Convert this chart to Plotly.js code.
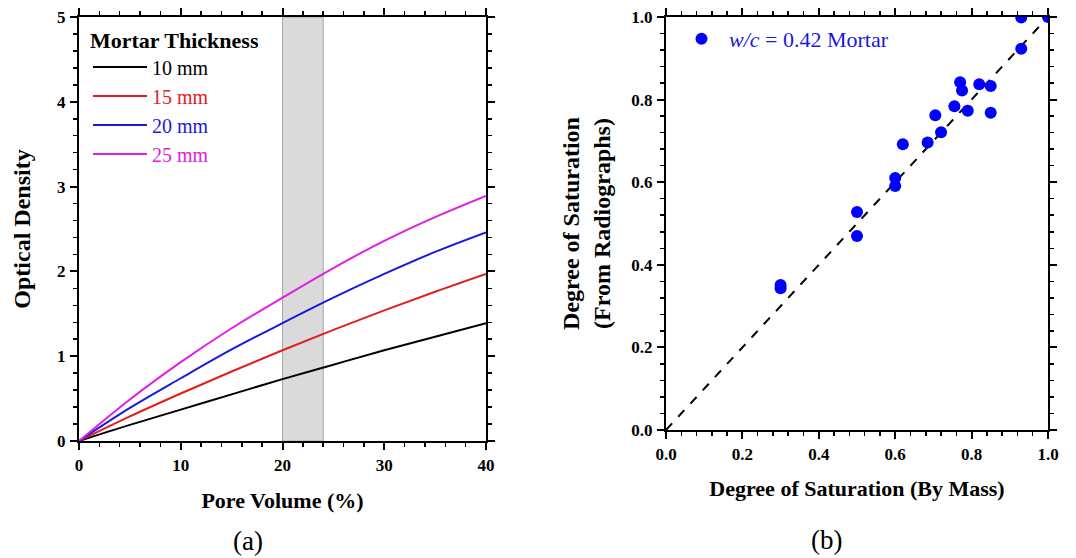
<!DOCTYPE html>
<html>
<head>
<meta charset="utf-8">
<script src="https://cdn.plot.ly/plotly-3.0.1.min.js"></script>
<style>html,body{margin:0;padding:0;background:#fff}#chart{width:1076px;height:558px}</style>
</head>
<body>
<div id="chart"></div>
<script>
// ---- Panel (a): optical density vs pore volume ----
const poreVolume = [0, 5, 10, 15, 20, 25, 30, 35, 40];
const od10mm = [0, 0.19, 0.37, 0.55, 0.73, 0.90, 1.07, 1.23, 1.39];
const od15mm = [0, 0.29, 0.56, 0.82, 1.07, 1.31, 1.54, 1.76, 1.97];
const od20mm = [0, 0.39, 0.74, 1.08, 1.39, 1.69, 1.97, 2.23, 2.46];
const od25mm = [0, 0.49, 0.93, 1.33, 1.69, 2.04, 2.36, 2.64, 2.89];
const thicknessLabels = ['10 mm', '15 mm', '20 mm', '25 mm'];
const thicknessColors = ['#000000', '#e0201b', '#1a1adf', '#e020e0'];
const bandRange = [20, 24];

// ---- Panel (b): saturation by mass vs radiographs ----
const satMass = [0.30, 0.30, 0.50, 0.50, 0.60, 0.60, 0.62, 0.685, 0.705, 0.72, 0.755, 0.77, 0.775, 0.79, 0.82, 0.85, 0.85, 0.93, 0.93, 1.00];
const satRadio = [0.351, 0.343, 0.528, 0.470, 0.610, 0.591, 0.692, 0.696, 0.762, 0.721, 0.784, 0.842, 0.822, 0.773, 0.837, 0.833, 0.768, 0.999, 0.923, 1.00];
const lineOfEquality = [0, 1];

const serif = 'Liberation Serif, Times New Roman, serif';
const odSeries = [od10mm, od15mm, od20mm, od25mm];

const traces = odSeries.map((ys, i) => ({
  x: poreVolume, y: ys, type: 'scatter', mode: 'lines',
  line: {color: thicknessColors[i], width: 2, shape: 'spline', smoothing: 1},
  name: '<span style="color:' + thicknessColors[i] + '">' + thicknessLabels[i] + '</span>',
  xaxis: 'x', yaxis: 'y', legend: 'legend'
}));
traces.push({
  x: lineOfEquality, y: lineOfEquality, type: 'scatter', mode: 'lines',
  line: {color: '#000', width: 2, dash: 'dash'}, showlegend: false,
  xaxis: 'x2', yaxis: 'y2'
});
traces.push({
  x: satMass, y: satRadio, type: 'scatter', mode: 'markers',
  marker: {color: '#0000ff', size: 12},
  name: '<span style="color:#1a1adf"><i>w/c</i> = 0.42 Mortar</span>',
  xaxis: 'x2', yaxis: 'y2', legend: 'legend2'
});
// empty traces that attach the tick-only overlay axes
traces.push({x: [], y: [], type: 'scatter', mode: 'lines', xaxis: 'x3', yaxis: 'y3', showlegend: false});
traces.push({x: [], y: [], type: 'scatter', mode: 'lines', xaxis: 'x4', yaxis: 'y4', showlegend: false});

const tickFont = {family: serif, size: 17, color: '#000', weight: 'bold'};
const titleFontX = {family: serif, size: 22, color: '#000', weight: 'bold'};
const titleFontY = {family: serif, size: 24, color: '#000', weight: 'bold'};

// label axes: line, tick labels and titles (no tick marks)
function labelAxis(extra) {
  return Object.assign({
    showline: true, linecolor: '#000', linewidth: 2, mirror: true,
    ticks: '', ticklabelstandoff: 8,
    showgrid: false, zeroline: false, tickfont: tickFont
  }, extra);
}
// tick axes: overlaid, draw only major + minor tick marks
function tickAxis(extra, minorDtick) {
  return Object.assign({
    showline: true, linecolor: '#000', linewidth: 2, mirror: 'ticks',
    ticks: 'outside', ticklen: 7, tickwidth: 2, tickcolor: '#000',
    showticklabels: false, showgrid: false, zeroline: false,
    minor: {ticks: 'outside', ticklen: 4, tickwidth: 1.5, tickcolor: '#000', dtick: minorDtick}
  }, extra);
}

const domA = {x: [79/1076, 486/1076], y: [1 - 441/558, 1 - 17/558]};
const domB = {x: [666/1076, 1048/1076], y: [1 - 430/558, 1 - 17/558]};

const layout = {
  width: 1076, height: 558,
  margin: {l: 0, r: 0, t: 0, b: 0},
  paper_bgcolor: '#fff', plot_bgcolor: '#fff',
  showlegend: true,
  xaxis: labelAxis({domain: domA.x, range: [0, 40], dtick: 10,
    title: {text: 'Pore Volume (%)', font: titleFontX, standoff: 18}, anchor: 'y'}),
  yaxis: labelAxis({domain: domA.y, range: [0, 5], dtick: 1,
    title: {text: 'Optical Density', font: titleFontY, standoff: 20}, anchor: 'x'}),
  xaxis2: labelAxis({domain: domB.x, range: [0, 1], dtick: 0.2, tickformat: '.1f',
    title: {text: 'Degree of Saturation (By Mass)', font: titleFontX, standoff: 17}, anchor: 'y2'}),
  yaxis2: labelAxis({domain: domB.y, range: [0, 1], dtick: 0.2, tickformat: '.1f',
    title: {text: 'Degree of Saturation<br>(From Radiographs)', font: titleFontY, standoff: 14}, anchor: 'x2'}),
  xaxis3: tickAxis({overlaying: 'x', anchor: 'y3', range: [0, 40], dtick: 10}, 2),
  yaxis3: tickAxis({overlaying: 'y', anchor: 'x3', range: [0, 5], dtick: 1}, 0.2),
  xaxis4: tickAxis({overlaying: 'x2', anchor: 'y4', range: [0, 1], dtick: 0.2}, 0.04),
  yaxis4: tickAxis({overlaying: 'y2', anchor: 'x4', range: [0, 1], dtick: 0.2}, 0.04),
  legend: {
    x: 88/1076, y: 1 - 19/558, xanchor: 'left', yanchor: 'top',
    bgcolor: 'rgba(0,0,0,0)', borderwidth: 0, itemwidth: 54,
    font: {family: serif, size: 20, color: '#000'},
    title: {text: '<b>Mortar Thickness</b>', font: {family: serif, size: 22, color: '#000'}}
  },
  legend2: {
    x: 674/1076, y: 1 - 18/558, xanchor: 'left', yanchor: 'top',
    bgcolor: 'rgba(0,0,0,0)', borderwidth: 0, itemwidth: 45,
    font: {family: serif, size: 22, color: '#1a1adf'}
  },
  shapes: [{
    type: 'rect', xref: 'x', yref: 'y', x0: bandRange[0], x1: bandRange[1], y0: 0, y1: 5,
    fillcolor: '#dadada', line: {color: '#a8a8a8', width: 1}, layer: 'below'
  }],
  annotations: [
    {text: '(a)', xref: 'paper', yref: 'paper', x: 248/1076, y: 1 - 541/558, showarrow: false,
     font: {family: serif, size: 27, color: '#000'}, xanchor: 'center', yanchor: 'middle'},
    {text: '(b)', xref: 'paper', yref: 'paper', x: 826/1076, y: 1 - 540/558, showarrow: false,
     font: {family: serif, size: 27, color: '#000'}, xanchor: 'center', yanchor: 'middle'}
  ]
};

Plotly.newPlot('chart', traces, layout, {staticPlot: true, displayModeBar: false});
</script>
</body>
</html>
